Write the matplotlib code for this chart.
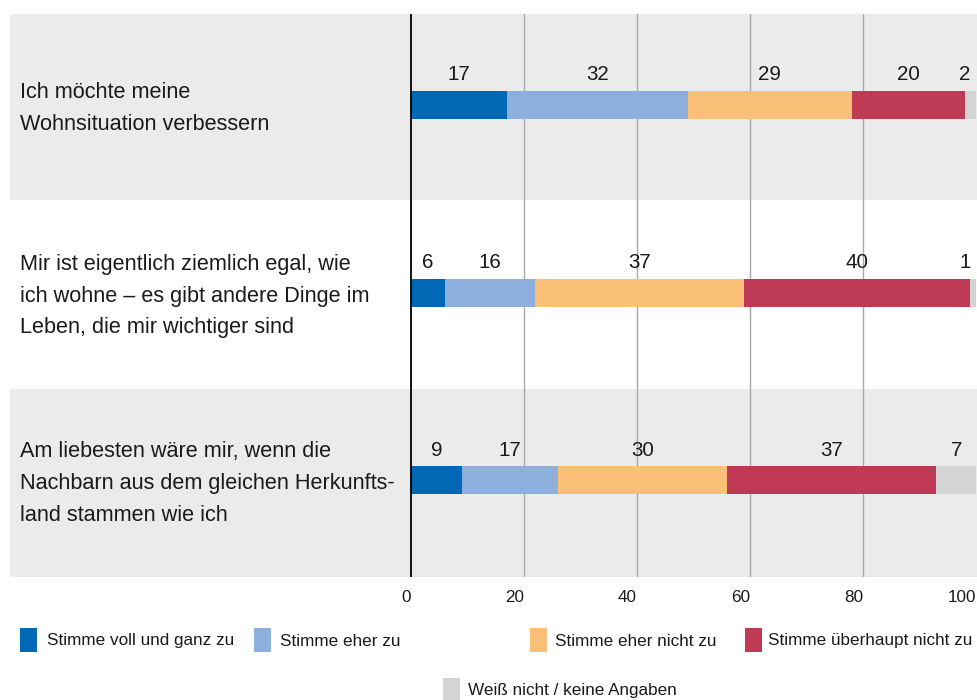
import matplotlib
matplotlib.use('Agg')
import matplotlib.pyplot as plt
from matplotlib.patches import Rectangle
from matplotlib import font_manager as fm

# ---------------- data ----------------
categories = [
    "Ich möchte meine\nWohnsituation verbessern",
    "Mir ist eigentlich ziemlich egal, wie\nich wohne – es gibt andere Dinge im\nLeben, die mir wichtiger sind",
    "Am liebesten wäre mir, wenn die\nNachbarn aus dem gleichen Herkunfts-\nland stammen wie ich",
]
series_names = [
    "Stimme voll und ganz zu",
    "Stimme eher zu",
    "Stimme eher nicht zu",
    "Stimme überhaupt nicht zu",
    "Weiß nicht / keine Angaben",
]
voll_und_ganz = [17, 6, 9]
eher_zu = [32, 16, 17]
eher_nicht = [29, 37, 30]
ueberhaupt_nicht = [20, 40, 37]
weiss_nicht = [2, 1, 7]
x_ticks = [0, 20, 40, 60, 80, 100]

series_values = [voll_und_ganz, eher_zu, eher_nicht, ueberhaupt_nicht, weiss_nicht]
colors = ['#0068b4', '#8cafdc', '#fac078', '#be3a55', '#d4d4d4']

# ---------------- fonts ----------------
names = {f.name for f in fm.fontManager.ttflist}
if 'Liberation Sans Narrow' in names:
    FONT = 'Liberation Sans Narrow'
    k = 1.0
else:
    FONT = 'Liberation Sans'
    k = 0.82
plt.rcParams['font.family'] = [FONT, 'DejaVu Sans']
TXT = '#1a1a1a'

W, H = 977, 700
fig = plt.figure(figsize=(W / 100, H / 100), dpi=100)

# axes spanning x 10..977 px, y 14..577 px
ax_l, ax_r, ax_t, ax_b = 10, 977, 14, 577
ax = fig.add_axes([ax_l / W, 1 - ax_b / H, (ax_r - ax_l) / W, (ax_b - ax_t) / H])
px_per_unit = 5.65
x0_px = 411
ax.set_xlim((ax_l - x0_px) / px_per_unit, (ax_r - x0_px) / px_per_unit)
ax.set_ylim(3, 0)

# bands
ax.axhspan(0, 0.99, color='#ebebeb', zorder=0, lw=0)
ax.axhspan(2, 3, color='#ebebeb', zorder=0, lw=0)

# gridlines
for xv in x_ticks[1:-1]:
    ax.axvline(xv, color='#a8a8a8', lw=1.0, zorder=0.5)
ax.axvline(0, color='black', lw=1.3, zorder=4)

# bars
n = len(categories)
ys = [i + 0.485 for i in range(n)]
lefts = [0] * n
for vals, col in zip(series_values, colors):
    ax.barh(ys, vals, left=lefts, height=0.15, color=col, lw=0, zorder=2)
    for i in range(n):
        xc = min(lefts[i] + vals[i] / 2, 98.0)
        ax.text(xc, i + 0.325, str(vals[i]), ha='center', va='center',
                fontsize=18 * k, color=TXT, zorder=5)
    lefts = [l + v for l, v in zip(lefts, vals)]

# category labels
for i, cat in enumerate(categories):
    ax.text((20 - x0_px) / px_per_unit, i + 0.503, cat, ha='left', va='center',
            fontsize=19 * k, color=TXT, linespacing=1.68)

# ticks
ax.set_xticks(x_ticks)
ax.set_xticklabels([str(t) for t in x_ticks], fontsize=15 * k, color=TXT)
for lab in ax.get_xticklabels():
    lab.set_ha('right')
ax.tick_params(axis='x', length=0, pad=9)
ax.set_yticks([])
for s in ax.spines.values():
    s.set_visible(False)

# legend (manual)
leg_pos = [(20, 628, 47), (254, 628, 280), (530, 628, 555), (745, 628, 768), (443, 678, 468)]
for (sx, sy, tx), name, col in zip(leg_pos, series_names, colors):
    fig.patches.append(Rectangle((sx / W, 1 - (sy + 24) / H), 17 / W, 24 / H,
                                 transform=fig.transFigure, color=col, lw=0))
    fig.text(tx / W, 1 - (sy + 13) / H, name, ha='left', va='center',
             fontsize=15 * k, color=TXT)

fig.savefig('out.png', dpi=100)
